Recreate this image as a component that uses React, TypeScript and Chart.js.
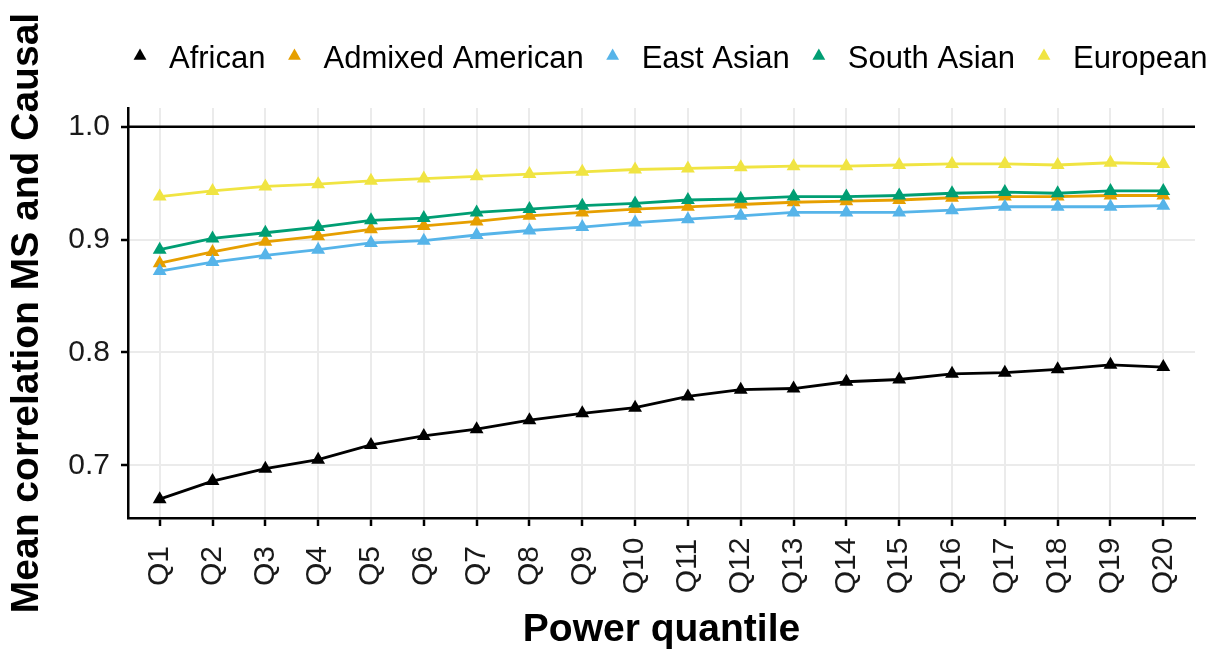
import React, { useEffect, useRef } from 'react';
import { Chart, registerables } from 'chart.js';

Chart.register(...registerables);

// Categories along the x axis
const quantiles = [
  'Q1', 'Q2', 'Q3', 'Q4', 'Q5', 'Q6', 'Q7', 'Q8', 'Q9', 'Q10',
  'Q11', 'Q12', 'Q13', 'Q14', 'Q15', 'Q16', 'Q17', 'Q18', 'Q19', 'Q20',
];

// Mean correlation per ancestry group
const african = [0.670, 0.686, 0.697, 0.705, 0.718, 0.726, 0.732, 0.740, 0.746, 0.751, 0.761, 0.767, 0.768, 0.774, 0.776, 0.781, 0.782, 0.785, 0.789, 0.787];
const admixedAmerican = [0.879, 0.889, 0.898, 0.903, 0.909, 0.912, 0.916, 0.921, 0.924, 0.927, 0.929, 0.931, 0.933, 0.934, 0.935, 0.937, 0.938, 0.938, 0.939, 0.939];
const eastAsian = [0.872, 0.880, 0.886, 0.891, 0.897, 0.899, 0.904, 0.908, 0.911, 0.915, 0.918, 0.921, 0.924, 0.924, 0.924, 0.926, 0.929, 0.929, 0.929, 0.930];
const southAsian = [0.891, 0.901, 0.906, 0.911, 0.917, 0.919, 0.924, 0.927, 0.930, 0.932, 0.935, 0.936, 0.938, 0.938, 0.939, 0.941, 0.942, 0.941, 0.943, 0.943];
const european = [0.938, 0.943, 0.947, 0.949, 0.952, 0.954, 0.956, 0.958, 0.960, 0.962, 0.963, 0.964, 0.965, 0.965, 0.966, 0.967, 0.967, 0.966, 0.968, 0.967];

const seriesNames = ['African', 'Admixed American', 'East Asian', 'South Asian', 'European'];
const seriesValues = [african, admixedAmerican, eastAsian, southAsian, european];
const seriesColors = ['#000000', '#E69F00', '#56B4E9', '#009E73', '#F0E442'];

// Y axis
const yTicks = [0.7, 0.8, 0.9, 1.0];
const yMin = 0.6533;
const yMax = 1.0165;
const referenceLine = 1.0;

const FONT = "'Liberation Sans', Arial, Helvetica, sans-serif";
const TEXT_COLOR = '#1a1a1a';
const GRID_COLOR = '#EBEBEB';
const MARKER_RADIUS = 8;

function drawTriangle(ctx: CanvasRenderingContext2D, x: number, y: number, r: number) {
  let rad = 0;
  const step = (2 * Math.PI) / 3;
  ctx.beginPath();
  ctx.moveTo(x + Math.sin(rad) * r, y - Math.cos(rad) * r);
  rad += step;
  ctx.lineTo(x + Math.sin(rad) * r, y - Math.cos(rad) * r);
  rad += step;
  ctx.lineTo(x + Math.sin(rad) * r, y - Math.cos(rad) * r);
  ctx.closePath();
  ctx.fill();
}

// Horizontal reference line at correlation 1
const referenceLinePlugin = {
  id: 'referenceLine',
  beforeDatasetsDraw(chart: any) {
    const { ctx, chartArea } = chart;
    const y = chart.scales.y.getPixelForValue(referenceLine);
    ctx.save();
    ctx.strokeStyle = '#000000';
    ctx.lineWidth = 2.5;
    ctx.beginPath();
    ctx.moveTo(chartArea.left, y);
    ctx.lineTo(chartArea.right, y);
    ctx.stroke();
    ctx.restore();
  },
};

// Vertical quantile labels, centred under each tick
const quantileLabelsPlugin = {
  id: 'quantileLabels',
  afterDraw(chart: any) {
    const { ctx, chartArea } = chart;
    const xs = chart.scales.x;
    const cy = chartArea.bottom + 48;
    ctx.save();
    ctx.font = `30px ${FONT}`;
    ctx.fillStyle = TEXT_COLOR;
    ctx.textAlign = 'center';
    ctx.textBaseline = 'middle';
    quantiles.forEach((q, i) => {
      const x = xs.getPixelForValue(i);
      ctx.save();
      ctx.translate(x, cy);
      ctx.rotate(-Math.PI / 2);
      ctx.fillText(q, 0, 0);
      ctx.restore();
    });
    ctx.restore();
  },
};

// Legend row above the plot
const topLegendPlugin = {
  id: 'topLegend',
  afterDraw(chart: any) {
    const { ctx } = chart;
    const gap = 29;
    const baseline = 68;
    const markerY = 56;
    let x = 140;
    ctx.save();
    ctx.font = `31px ${FONT}`;
    ctx.textAlign = 'left';
    ctx.textBaseline = 'alphabetic';
    seriesNames.forEach((name, i) => {
      ctx.fillStyle = seriesColors[i];
      drawTriangle(ctx, x, markerY, 7.4);
      const tx = x + gap;
      ctx.fillStyle = '#000000';
      ctx.fillText(name, tx, baseline);
      x = tx + ctx.measureText(name).width + gap;
    });
    ctx.restore();
  },
};

export default function App() {
  const canvasRef = useRef<HTMLCanvasElement | null>(null);

  useEffect(() => {
    const canvas = canvasRef.current;
    if (!canvas) return;
    Chart.defaults.font.family = FONT;

    const datasets = seriesNames.map((name, i) => ({
      label: name,
      data: seriesValues[i].map((v, j) => ({ x: j, y: v })),
      borderColor: seriesColors[i],
      backgroundColor: seriesColors[i],
      pointBackgroundColor: seriesColors[i],
      pointBorderWidth: 0,
      pointStyle: 'triangle' as const,
      pointRadius: MARKER_RADIUS,
      borderWidth: 2.8,
      tension: 0,
      fill: false,
      order: seriesNames.length - i,
    }));

    const chart = new Chart(canvas, {
      type: 'line',
      data: { datasets },
      options: {
        animation: false,
        responsive: true,
        maintainAspectRatio: false,
        devicePixelRatio: 1,
        events: [],
        layout: { padding: { top: 108, right: 26, bottom: 0, left: 0 } },
        plugins: {
          legend: { display: false },
          tooltip: { enabled: false },
        },
        scales: {
          x: {
            type: 'linear',
            min: -0.6,
            max: quantiles.length - 1 + 0.6,
            afterBuildTicks: (s: any) => {
              s.ticks = quantiles.map((_, i) => ({ value: i }));
            },
            afterFit: (s: any) => {
              s.height = 133;
            },
            ticks: { display: false },
            grid: {
              color: GRID_COLOR,
              lineWidth: 2,
              tickColor: '#000000',
              tickLength: 8,
              tickWidth: 2.5,
            },
            border: { display: true, color: '#000000', width: 2.5 },
            title: {
              display: true,
              text: 'Power quantile',
              color: '#000000',
              font: { family: FONT, size: 39, weight: 'bold', lineHeight: 1 },
              padding: { top: 0, bottom: 1.5 },
            },
          },
          y: {
            type: 'linear',
            min: yMin,
            max: yMax,
            afterBuildTicks: (s: any) => {
              s.ticks = yTicks.map((v) => ({ value: v }));
            },
            afterFit: (s: any) => {
              s.width = 128;
            },
            ticks: {
              callback: (v: any) => Number(v).toFixed(1),
              font: { family: FONT, size: 30 },
              color: TEXT_COLOR,
              padding: 11,
            },
            grid: {
              color: GRID_COLOR,
              lineWidth: 2,
              tickColor: '#000000',
              tickLength: 7,
              tickWidth: 2.5,
            },
            border: { display: true, color: '#000000', width: 2.5 },
            title: {
              display: true,
              text: 'Mean correlation MS and Causal',
              color: '#000000',
              font: { family: FONT, size: 39, weight: 'bold', lineHeight: 1 },
              padding: { top: 8, bottom: 0 },
            },
          },
        },
      },
      plugins: [referenceLinePlugin, quantileLabelsPlugin, topLegendPlugin],
    } as any);

    return () => chart.destroy();
  }, []);

  return (
    <div style={{ position: 'fixed', left: 0, top: 0, width: 1221, height: 651, background: '#ffffff' }}>
      <canvas ref={canvasRef} />
    </div>
  );
}
